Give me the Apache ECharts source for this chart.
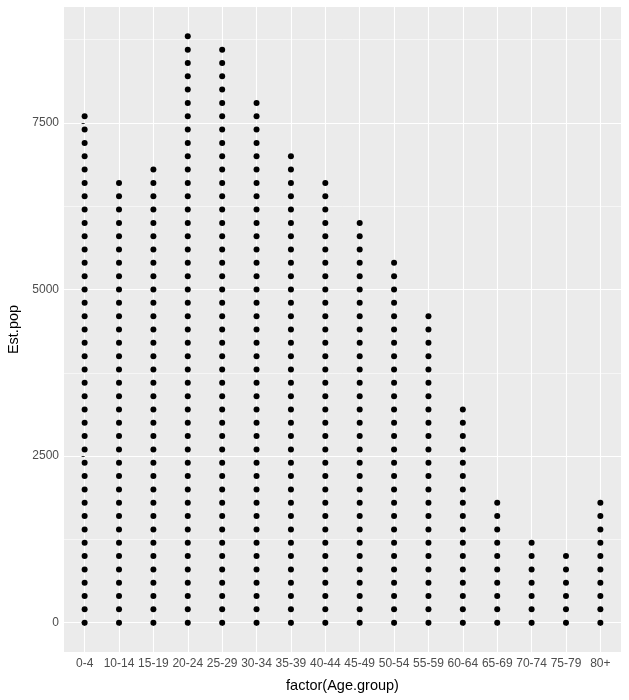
<!DOCTYPE html>
<html>
<head>
<meta charset="utf-8">
<script src="https://cdn.jsdelivr.net/npm/echarts@6/dist/echarts.min.js"></script>
<style>
html,body{margin:0;padding:0;background:#fff;}
#chart{width:629px;height:700px;}
</style>
</head>
<body>
<div id="chart"></div>
<script>
// Age groups (x categories)
var categories = ['0-4','10-14','15-19','20-24','25-29','30-34','35-39','40-44','45-49','50-54','55-59','60-64','65-69','70-74','75-79','80+'];
// Highest Est.pop value read for each age group
var topPop = [7600, 6600, 6800, 8800, 8600, 7800, 7000, 6600, 6000, 5400, 4600, 3200, 1800, 1200, 1000, 1800];
// Est.pop levels at which points appear
var popLevels = [0,200,400,600,800,1000,1200,1400,1600,1800,2000,2200,2400,2600,2800,3000,3200,3400,3600,3800,4000,4200,4400,4600,4800,5000,5200,5400,5600,5800,6000,6200,6400,6600,6800,7000,7200,7400,7600,7800,8000,8200,8400,8600,8800];
// Axis ticks
var yTicks = [0, 2500, 5000, 7500];
var yMinor = [1250, 3750, 6250, 8750];

var points = [];
categories.forEach(function (c, i) {
  popLevels.forEach(function (v) {
    if (v <= topPop[i]) points.push([i, v]);
  });
});
var xIdx = categories.map(function (c, i) { return i; });

var font = 'Liberation Sans, Arial, sans-serif';
var chart = echarts.init(document.getElementById('chart'), null, {renderer: 'canvas'});
var gridLines = [];
yTicks.forEach(function (v) { gridLines.push({yAxis: v, lineStyle: {width: 1.1}}); });
yMinor.forEach(function (v) { gridLines.push({yAxis: v, lineStyle: {width: 0.55}}); });
xIdx.forEach(function (v) { gridLines.push({xAxis: v, lineStyle: {width: 1.1}}); });

chart.setOption({
  animation: false,
  backgroundColor: '#ffffff',
  grid: {left: 64, right: 8, top: 7, bottom: 48, show: true, backgroundColor: '#EBEBEB', borderWidth: 0,
    containLabel: false, outerBoundsMode: 'none'},
  xAxis: {
    type: 'value', min: -0.6, max: 15.6,
    name: 'factor(Age.group)', nameLocation: 'middle', nameGap: 26,
    nameTextStyle: {color: '#000', fontSize: 14.5, fontFamily: font},
    axisLine: {show: false},
    splitLine: {show: false},
    axisTick: {show: true, customValues: xIdx, length: 3, lineStyle: {color: '#333', width: 1}},
    axisLabel: {customValues: xIdx, color: '#4D4D4D', fontSize: 12, fontFamily: font, margin: 6,
      formatter: function (v) { return categories[Math.round(v)]; }}
  },
  yAxis: {
    type: 'value', min: -440, max: 9240,
    name: 'Est.pop', nameLocation: 'middle', nameGap: 41, nameRotate: 90,
    nameTextStyle: {color: '#000', fontSize: 14.5, fontFamily: font},
    axisLine: {show: false},
    splitLine: {show: false},
    axisTick: {show: true, customValues: yTicks, length: 3, lineStyle: {color: '#333', width: 1}},
    axisLabel: {customValues: yTicks, color: '#4D4D4D', fontSize: 12, fontFamily: font, margin: 5,
      formatter: function (v) { return String(v); }}
  },
  series: [
    {
      type: 'scatter', data: [], z: 1, silent: true,
      markLine: {silent: true, z: 0, symbol: 'none', label: {show: false}, animation: false,
        lineStyle: {color: '#ffffff', type: 'solid'}, data: gridLines}
    },
    {
      type: 'scatter', data: points, z: 3, symbol: 'circle', symbolSize: 6,
      itemStyle: {color: '#000000', opacity: 1}
    }
  ]
});
</script>
</body>
</html>
